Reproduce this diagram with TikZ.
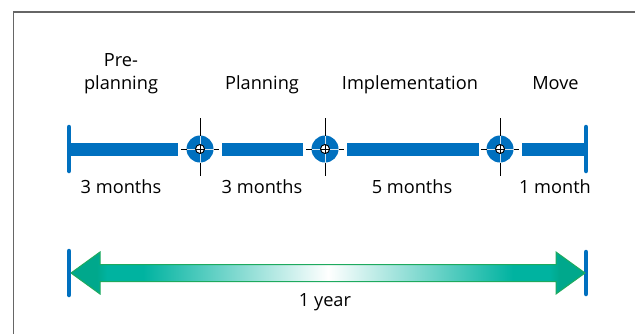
\documentclass[tikz,border=0pt]{standalone}
\usepackage{fontspec}
\usetikzlibrary{calc}
\setmainfont{Open Sans}
\definecolor{barblue}{HTML}{0070BF}
\definecolor{tealmid}{HTML}{00B3A0}
\definecolor{tealdeep}{HTML}{00A88C}
\definecolor{arrowedge}{HTML}{1EAA5E}
\definecolor{hairwhite}{HTML}{CFE6F5}
\definecolor{framegray}{HTML}{666666}
\pgfdeclarehorizontalshading{yearfade}{100bp}{%
  color(0bp)=(tealdeep); color(27.5bp)=(tealdeep); color(28.5bp)=(tealmid);
  color(32bp)=(tealmid); color(50bp)=(white); color(68bp)=(tealmid);
  color(71.5bp)=(tealmid); color(72.5bp)=(tealdeep); color(100bp)=(tealdeep)}
\tikzset{
  lbl/.style={font=\fontsize{18.2}{23}\selectfont, anchor=base, inner sep=0pt, align=center},
  phasebar/.style={barblue, line width=13pt},
  endtick/.style={barblue, line width=4.5pt, line cap=round},
  pics/milestone/.style={code={
    \fill[barblue] (0,0) circle[radius=13.5];
    \draw[hairwhite, line width=1pt] (-13.5,0) -- (13.5,0) (0,-13.5) -- (0,13.5);
    \draw[black, line width=1pt] (-19,0) -- (-13.5,0) (13.5,0) -- (18.5,0)
      (0,-31) -- (0,-13.5) (0,13.5) -- (0,27);
    \draw[black, fill=white, line width=0.9pt] (0,0) circle[radius=4.5];
    \draw[black, line width=0.9pt] (-4.5,0) -- (4.5,0) (0,-4.5) -- (0,4.5);
  }}
}
\begin{document}
\begin{tikzpicture}[x=1pt,y=-1pt]
\useasboundingbox (0,0) rectangle (635,333);
% open frame
\draw[framegray, line width=1.5pt] (13.5,340) |- (645,12);

% phase boundaries
\coordinate (s0) at (69,149);
\coordinate (m1) at (200,149);
\coordinate (m2) at (325,149);
\coordinate (m3) at (500,149);
\coordinate (s4) at (586,149);

% end ticks
\draw[endtick] ($(s0)+(0,-22)$) -- ($(s0)+(0,22)$);
\draw[endtick] ($(s4)+(0,-22)$) -- ($(s4)+(0,22)$);

% phase bars
\draw[phasebar] (s0) -- ($(m1)+(-22,0)$);
\draw[phasebar] ($(m1)+(22,0)$) -- ($(m2)+(-22,0)$);
\draw[phasebar] ($(m2)+(22,0)$) -- ($(m3)+(-21,0)$);
\draw[phasebar] ($(m3)+(22,0)$) -- (s4);

% milestones
\pic at (m1) {milestone};
\pic at (m2) {milestone};
\pic at (m3) {milestone};

% phase names
\node[lbl] (pre) at (121,89) {Pre-\\planning};
\node[lbl] (plan) at (262,89) {Planning};
\node[lbl] (impl) at (410,89) {Implementation};
\node[lbl] (move) at (555.5,89) {Move};

% durations
\node[lbl] (d1) at (121,193) {3 months};
\node[lbl] (d2) at (262,193) {3 months};
\node[lbl] (d3) at (412,193) {5 months};
\node[lbl] (d4) at (555,193) {1 month};

% one-year span
\coordinate (y0) at (69,273);
\coordinate (y1) at (586,273);
\draw[endtick] ($(y0)+(0,-22)$) -- ($(y0)+(0,22)$);
\draw[endtick] ($(y1)+(0,-21)$) -- ($(y1)+(0,21)$);
\path[shading=yearfade, draw=arrowedge, line width=1pt, line join=miter]
  ($(y0)+(2,0)$) -- ($(y0)+(31,-21)$) -- ($(y0)+(31,-8.5)$)
  -- ($(y1)+(-30,-8.5)$) -- ($(y1)+(-30,-21)$) -- ($(y1)+(-1,0)$)
  -- ($(y1)+(-30,21)$) -- ($(y1)+(-30,8.5)$)
  -- ($(y0)+(31,8.5)$) -- ($(y0)+(31,21)$) -- cycle;
\node[lbl] (yr) at (325,306.5) {1 year};
\end{tikzpicture}
\end{document}
